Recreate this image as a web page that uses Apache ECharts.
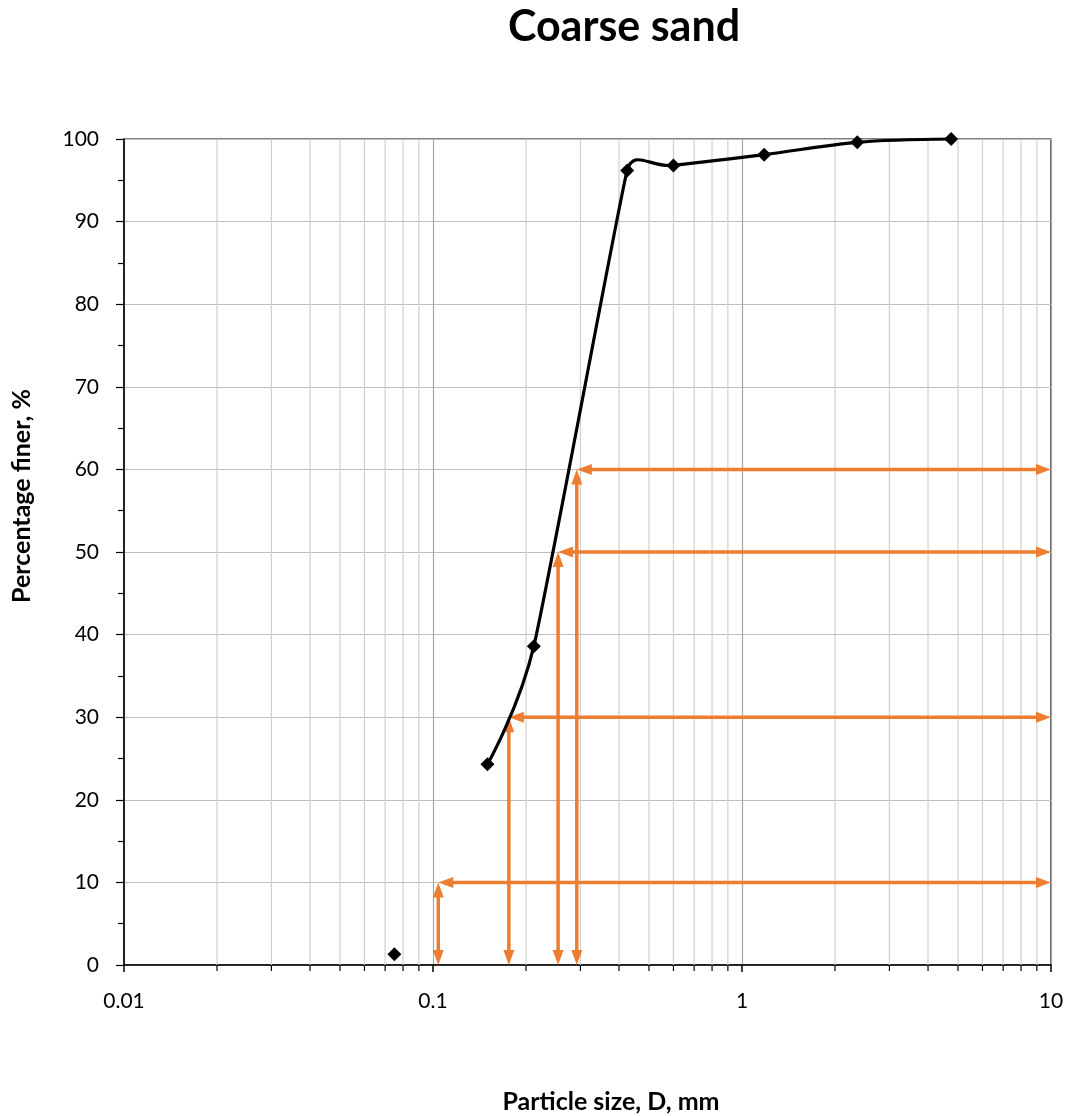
<!DOCTYPE html>
<html>
<head>
<meta charset="utf-8">
<title>Coarse sand</title>
<script src="https://cdn.jsdelivr.net/npm/echarts@6/dist/echarts.min.js"></script>
<style>
  html, body { margin: 0; padding: 0; background: #ffffff; }
  #chart { width: 1070px; height: 1116px; }
</style>
</head>
<body>
<div id="chart"></div>
<script>
// Sieve analysis: particle size (mm) vs. cumulative percentage finer
const sieveSizes = [0.15, 0.212, 0.425, 0.6, 1.18, 2.36, 4.75];
const percentFiner = [24.3, 38.6, 96.2, 96.8, 98.1, 99.6, 100];

// Pan / finest fraction, plotted on its own
const panSize = [0.075];
const panPercent = [1.3];

// Characteristic diameters D10, D30, D50, D60
const dLevels = [10, 30, 50, 60];
const dSizes = [0.104, 0.176, 0.254, 0.292];

// Axis tick labels
const xTickLabels = ['0.01', '0.1', '1', '10'];
const yTickLabels = [0, 10, 20, 30, 40, 50, 60, 70, 80, 90, 100];

const FONT = 'Lato, "Open Sans", sans-serif';
const X_MIN = 0.01, X_MAX = 10;

// Minor log gridline positions (2..9 in every decade)
const minorX = [];
for (let dec = X_MIN; dec < X_MAX - 1e-9; dec *= 10) {
  for (let k = 2; k <= 9; k++) minorX.push(+(k * dec).toPrecision(3));
}

// Double-headed arrows: horizontal ones run to the right edge, vertical ones drop to 0
const arrowData = [];
dSizes.forEach((d, i) => {
  arrowData.push([d, dLevels[i], X_MAX, dLevels[i]]);
  arrowData.push([d, 0, d, dLevels[i]]);
});

const xSet = {};
xTickLabels.forEach(t => { xSet[String(parseFloat(t))] = t; });

const curveData = sieveSizes.map((s, i) => [s, percentFiner[i]]);

// Smoothed curve segment i -> i+1 as a cubic Bezier in pixel space.
// Tangent at each point follows its neighbours; handle length is limited
// by the adjoining segment lengths so the curve stays close to the points.
function handle(pts, i) {
  const prev = pts[Math.max(i - 1, 0)];
  const next = pts[Math.min(i + 1, pts.length - 1)];
  const cur = pts[i];
  const tx = next[0] - prev[0], ty = next[1] - prev[1];
  const d02 = Math.hypot(tx, ty);
  if (d02 === 0) return [0, 0];
  const d01 = Math.hypot(cur[0] - prev[0], cur[1] - prev[1]);
  const d12 = Math.hypot(next[0] - cur[0], next[1] - cur[1]);
  const len = Math.min(d02 / 6, d01 / 2, d12 / 2);
  return [tx / d02 * len, ty / d02 * len];
}

const chart = echarts.init(document.getElementById('chart'));

const option = {
  backgroundColor: '#ffffff',
  animation: false,
  title: {
    text: 'Coarse sand',
    left: 619,
    top: 1,
    textAlign: 'center',
    textStyle: { fontFamily: FONT, fontSize: 43, fontWeight: 'bold', color: '#000' }
  },
  graphic: [
    {
      type: 'text',
      x: 22, y: 496,
      rotation: Math.PI / 2,
      silent: true,
      style: {
        text: 'Percentage finer, %',
        font: 'bold 25px ' + FONT,
        fill: '#000',
        textAlign: 'center',
        textVerticalAlign: 'middle'
      }
    },
    {
      type: 'text',
      x: 611, y: 1102,
      silent: true,
      style: {
        text: 'Particle size, D, mm',
        font: 'bold 25px ' + FONT,
        fill: '#000',
        textAlign: 'center',
        textVerticalAlign: 'middle'
      }
    }
  ],
  grid: {
    left: 124, right: 19, top: 139, bottom: 151,
    show: true, borderColor: '#000', borderWidth: 1.2, backgroundColor: 'transparent'
  },
  xAxis: {
    type: 'log',
    logBase: 10,
    min: X_MIN,
    max: X_MAX,
    axisLine: { show: true, onZero: false, lineStyle: { color: '#000', width: 1.5 } },
    axisTick: { show: true, inside: false, length: 7, lineStyle: { color: '#000', width: 1.5 } },
    axisLabel: {
      fontFamily: FONT, fontSize: 21, color: '#000', margin: 26,
      formatter: v => xSet[String(v)] !== undefined ? xSet[String(v)] : ''
    },
    splitLine: { show: true, lineStyle: { color: '#a6a6a6', width: 1.2 } },
    minorTick: { show: false },
    minorSplitLine: { show: false }
  },
  yAxis: {
    type: 'value',
    min: 0,
    max: 100,
    interval: 10,
    axisLine: { show: true, lineStyle: { color: '#000', width: 1.5 } },
    axisTick: { show: true, inside: false, length: 8, lineStyle: { color: '#000', width: 1.2 } },
    minorTick: { show: true, splitNumber: 2, length: 6, lineStyle: { color: '#000', width: 1.2 } },
    axisLabel: {
      fontFamily: FONT, fontSize: 21, color: '#000', margin: 25,
      formatter: v => yTickLabels.indexOf(v) >= 0 ? String(v) : ''
    },
    splitLine: { show: true, lineStyle: { color: '#bfbfbf', width: 1.2 } }
  },
  series: [
    {
      // minor vertical gridlines plus their ticks below the axis
      type: 'custom',
      silent: true,
      clip: false,
      z: 1,
      data: minorX.map(v => [v, 0]),
      encode: { x: 0, y: 1 },
      renderItem: function (params, api) {
        const v = api.value(0);
        const bottom = api.coord([v, 0]);
        const top = api.coord([v, 100]);
        return {
          type: 'group',
          children: [
            { type: 'line', shape: { x1: bottom[0], y1: bottom[1], x2: top[0], y2: top[1] },
              style: { stroke: '#d0d0d0', lineWidth: 1.2 } },
            { type: 'line', shape: { x1: bottom[0], y1: bottom[1], x2: bottom[0], y2: bottom[1] + 6 },
              style: { stroke: '#000', lineWidth: 1.2 } }
          ]
        };
      }
    },
    {
      // D-value construction arrows
      type: 'custom',
      silent: true,
      clip: false,
      z: 3,
      data: arrowData,
      encode: { x: [0, 2], y: [1, 3] },
      renderItem: function (params, api) {
        const p1 = api.coord([api.value(0), api.value(1)]);
        const p2 = api.coord([api.value(2), api.value(3)]);
        const dx = p2[0] - p1[0], dy = p2[1] - p1[1];
        const len = Math.sqrt(dx * dx + dy * dy) || 1;
        const ux = dx / len, uy = dy / len;
        const nx = -uy, ny = ux;
        const L = 15, W = 5.5;
        const color = '#ed7d31';
        return {
          type: 'group',
          children: [
            { type: 'line',
              shape: { x1: p1[0] + ux * (L - 2), y1: p1[1] + uy * (L - 2),
                       x2: p2[0] - ux * (L - 2), y2: p2[1] - uy * (L - 2) },
              style: { stroke: color, lineWidth: 3.5 } },
            { type: 'polygon',
              shape: { points: [[p1[0], p1[1]],
                                [p1[0] + ux * L + nx * W, p1[1] + uy * L + ny * W],
                                [p1[0] + ux * L - nx * W, p1[1] + uy * L - ny * W]] },
              style: { fill: color } },
            { type: 'polygon',
              shape: { points: [[p2[0], p2[1]],
                                [p2[0] - ux * L + nx * W, p2[1] - uy * L + ny * W],
                                [p2[0] - ux * L - nx * W, p2[1] - uy * L - ny * W]] },
              style: { fill: color } }
          ]
        };
      }
    },
    {
      // grading curve, drawn as smooth Bezier segments between the sieve points
      type: 'custom',
      silent: true,
      clip: false,
      z: 4,
      data: curveData,
      encode: { x: 0, y: 1 },
      renderItem: function (params, api) {
        const i = params.dataIndex;
        if (i >= curveData.length - 1) return null;
        const pts = curveData.map(p => api.coord(p));
        const h0 = handle(pts, i);
        const h1 = handle(pts, i + 1);
        const a = pts[i], b = pts[i + 1];
        return {
          type: 'bezierCurve',
          shape: {
            x1: a[0], y1: a[1],
            cpx1: a[0] + h0[0], cpy1: a[1] + h0[1],
            cpx2: b[0] - h1[0], cpy2: b[1] - h1[1],
            x2: b[0], y2: b[1]
          },
          style: { stroke: '#000', lineWidth: 3.2, fill: null, lineCap: 'round' }
        };
      }
    },
    {
      // sieve points
      type: 'scatter',
      z: 5,
      symbol: 'diamond',
      symbolSize: 14,
      itemStyle: { color: '#000', opacity: 1 },
      data: curveData
    },
    {
      // pan fraction
      type: 'scatter',
      z: 5,
      symbol: 'diamond',
      symbolSize: 14,
      itemStyle: { color: '#000', opacity: 1 },
      data: panSize.map((s, i) => [s, panPercent[i]])
    }
  ]
};

chart.setOption(option);
</script>
</body>
</html>
